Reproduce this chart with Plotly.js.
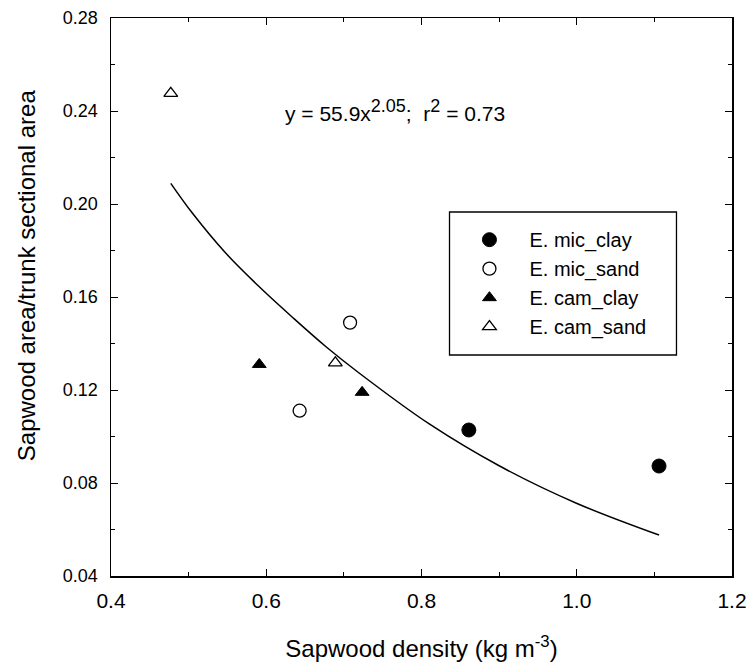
<!DOCTYPE html>
<html>
<head>
<meta charset="utf-8">
<script src="https://cdn.plot.ly/plotly-3.0.1.min.js"></script>
<style>html,body{margin:0;padding:0;background:#fff;}</style>
</head>
<body>
<div id="chart" style="width:749px;height:669px;"></div>
<script>
// ---- data ----
var micClayX = [0.861, 1.106];
var micClayY = [0.1028, 0.0873];
var micSandX = [0.643, 0.708];
var micSandY = [0.1111, 0.149];
var camClayX = [0.591, 0.7235];
var camClayY = [0.131, 0.119];
var camSandX = [0.477, 0.689];
var camSandY = [0.2476, 0.1317];
// fitted curve, points
var fitX = [0.477, 0.505, 0.548, 0.591, 0.634, 0.677, 0.720, 0.810, 0.9006, 0.9996, 1.106];
var fitY = [0.2089, 0.1960, 0.1788, 0.1644, 0.1512, 0.1386, 0.1272, 0.1054, 0.0873, 0.0713, 0.0576];
var seriesNames = ['E. mic_clay', 'E. mic_sand', 'E. cam_clay', 'E. cam_sand'];
var xTicks = [0.4, 0.6, 0.8, 1.0, 1.2];
var xTickText = ['0.4', '0.6', '0.8', '1.0', '1.2'];
var yTicks = [0.04, 0.08, 0.12, 0.16, 0.20, 0.24, 0.28];
var yTickText = ['0.04', '0.08', '0.12', '0.16', '0.20', '0.24', '0.28'];
var eqText = 'y = 55.9x<sup><span style="font-size:18px">2.05</span></sup>;&nbsp; r<sup><span style="font-size:18px">2</span></sup> = 0.73';
var xTitle = 'Sapwood density (kg m<sup>-3</sup>)';
var yTitle = 'Sapwood area/trunk sectional area';

var FONT = 'Liberation Sans, Arial, sans-serif';

var traces = [
  {x: fitX, y: fitY, mode: 'lines', line: {color: '#000', width: 1.5, shape: 'spline', smoothing: 1}, showlegend: false, hoverinfo: 'skip'},
  {x: micClayX, y: micClayY, name: seriesNames[0], mode: 'markers', type: 'scatter',
   marker: {symbol: 'circle', size: 14, color: '#000', line: {color: '#000', width: 1}}},
  {x: micSandX, y: micSandY, name: seriesNames[1], mode: 'markers', type: 'scatter',
   marker: {symbol: 'circle', size: 13, color: '#fff', line: {color: '#000', width: 1.3}}},
  {x: camClayX, y: camClayY, name: seriesNames[2], mode: 'markers', type: 'scatter',
   marker: {symbol: 'triangle-up', size: 12, color: '#000', line: {color: '#000', width: 1}}},
  {x: camSandX, y: camSandY, name: seriesNames[3], mode: 'markers', type: 'scatter',
   marker: {symbol: 'triangle-up', size: 12, color: '#fff', line: {color: '#000', width: 1.3}}}
];

var layout = {
  width: 749, height: 669,
  margin: {l: 111, r: 17, t: 18, b: 93},
  paper_bgcolor: '#fff', plot_bgcolor: '#fff',
  font: {family: FONT, color: '#000'},
  showlegend: true,
  legend: {
    x: 0.5450, y: 0.6377, xanchor: 'left', yanchor: 'top',
    bgcolor: 'rgba(0,0,0,0)', borderwidth: 0,
    font: {family: FONT, size: 20, color: '#000'},
    itemwidth: 70
  },
  xaxis: {
    range: [0.4, 1.2], tickmode: 'array', tickvals: xTicks, ticktext: xTickText,
    ticks: 'inside', ticklen: 7, tickwidth: 1, tickcolor: '#000',
    minor: {dtick: 0.1, ticks: 'inside', ticklen: 4, tickwidth: 1, tickcolor: '#000'},
    showline: true, linecolor: '#000', linewidth: 1.5, mirror: 'ticks',
    showgrid: false, zeroline: false,
    tickfont: {family: FONT, size: 21},
    ticklabelstandoff: 5,
    title: {text: xTitle, font: {family: FONT, size: 24}, standoff: 29}
  },
  yaxis: {
    range: [0.04, 0.28], tickmode: 'array', tickvals: yTicks, ticktext: yTickText,
    ticks: 'inside', ticklen: 7, tickwidth: 1, tickcolor: '#000',
    minor: {dtick: 0.02, ticks: 'inside', ticklen: 4, tickwidth: 1, tickcolor: '#000'},
    showline: true, linecolor: '#000', linewidth: 1.5, mirror: 'ticks',
    showgrid: false, zeroline: false,
    tickfont: {family: FONT, size: 18},
    ticklabelstandoff: 8
  },
  shapes: [{
    type: 'rect', xref: 'paper', yref: 'paper',
    x0: 0.5451, x1: 0.9106, y0: 0.3961, y1: 0.6523,
    line: {color: '#000', width: 1.3}, fillcolor: 'rgba(0,0,0,0)'
  }],
  annotations: [
    {text: eqText, x: 0.621, y: 0.2404, xref: 'x', yref: 'y', xanchor: 'left', yanchor: 'middle',
     showarrow: false, font: {family: FONT, size: 21}},
    {text: yTitle, textangle: -90, xref: 'paper', yref: 'paper', x: -0.137, y: 0.539,
     xanchor: 'center', yanchor: 'middle', showarrow: false, font: {family: FONT, size: 24}}
  ]
};

Plotly.newPlot('chart', traces, layout, {displayModeBar: false, staticPlot: true});
</script>
</body>
</html>
